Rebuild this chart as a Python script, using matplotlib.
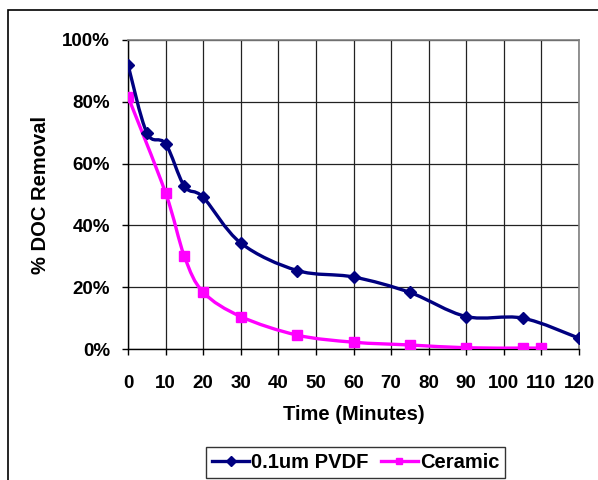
import numpy as np
import matplotlib
matplotlib.use("Agg")
import matplotlib.pyplot as plt
from matplotlib.path import Path
from matplotlib.patches import PathPatch, Rectangle

plt.rcParams['font.family'] = ['Liberation Sans', 'DejaVu Sans']
plt.rcParams['font.weight'] = 'bold'

# data
pvdf_t = [0, 5, 10, 15, 20, 30, 45, 60, 75, 90, 105, 120]
pvdf_y = [0.92, 0.70, 0.664, 0.527, 0.491, 0.343, 0.254, 0.233, 0.183, 0.105, 0.10, 0.035]
cer_t = [0, 10, 15, 20, 30, 45, 60, 75, 90, 105, 110]
cer_y = [0.817, 0.505, 0.30, 0.184, 0.105, 0.045, 0.022, 0.013, 0.004, 0.003, 0.003]

xticks = list(range(0, 121, 10))
yticks = [0, 0.2, 0.4, 0.6, 0.8, 1.0]
ytick_labels = ['0%', '20%', '40%', '60%', '80%', '100%']


def smooth_path(x, y):
    # excel-style smoothed line (catmull-rom as cubic bezier)
    p = np.column_stack([x, y]).astype(float)
    n = len(p)
    verts = [p[0]]
    codes = [Path.MOVETO]
    for i in range(n - 1):
        p0 = p[i - 1] if i > 0 else p[i]
        p3 = p[i + 2] if i + 2 < n else p[i + 1]
        c1 = p[i] + (p[i + 1] - p0) / 6.0
        c2 = p[i + 1] - (p3 - p[i]) / 6.0
        verts += [c1, c2, p[i + 1]]
        codes += [Path.CURVE4] * 3
    return Path(verts, codes)


fig = plt.figure(figsize=(5.98, 4.8), dpi=100)
ax = fig.add_axes([128 / 598, 1 - 349 / 480, (579 - 128) / 598, (349 - 40) / 480])

navy = '#000080'
mag = '#FF00FF'

ax.add_patch(PathPatch(smooth_path(cer_t, cer_y), fill=False, ec=mag, lw=2.4, zorder=3))
ax.plot(cer_t, cer_y, ls='none', marker='s', ms=7, color=mag, zorder=4)
ax.add_patch(PathPatch(smooth_path(pvdf_t, pvdf_y), fill=False, ec=navy, lw=2.4, zorder=5))
ax.plot(pvdf_t, pvdf_y, ls='none', marker='D', ms=6.5, color=navy, zorder=6)

ax.set_xlim(0, 120)
ax.set_ylim(0, 1.0)
ax.set_xticks(xticks)
ax.set_yticks(yticks)
ax.set_yticklabels(ytick_labels)
ax.grid(True, color='#222222', lw=0.9)
ax.set_axisbelow(True)

for s in ['top', 'right']:
    ax.spines[s].set_color('#808080')
    ax.spines[s].set_linewidth(1.2)
for s in ['left', 'bottom']:
    ax.spines[s].set_color('black')
    ax.spines[s].set_linewidth(1.0)

ax.tick_params(axis='x', direction='out', length=4, width=1, pad=15, labelsize=13.5)
ax.tick_params(axis='y', direction='out', length=4, width=1, pad=9, labelsize=13.5)

ax.set_xlabel('Time (Minutes)', fontsize=14.5, fontweight='bold', labelpad=9)
ax.set_ylabel('% DOC Removal', fontsize=14.5, fontweight='bold', labelpad=9)

# legend
h1, = ax.plot([], [], color=navy, lw=2.4, marker='D', ms=5)
h2, = ax.plot([], [], color=mag, lw=2.4, marker='s', ms=5)
leg = fig.legend([h1, h2], ['0.1um PVDF', 'Ceramic'], loc='upper left',
                 bbox_to_anchor=(206 / 598, 1 - 447 / 480), ncol=2,
                 fontsize=14.5, frameon=True, fancybox=False, handlelength=1.85,
                 handletextpad=0.1, columnspacing=0.6, borderpad=0.3,
                 borderaxespad=0)
leg.get_frame().set_edgecolor('black')
leg.get_frame().set_linewidth(1.0)

# outer chart border
fig.patches.append(Rectangle((8 / 598, -0.1), 1.1, 1 - 10 / 480 + 0.1,
                             transform=fig.transFigure, fill=False,
                             ec='black', lw=1.2, clip_on=False))

fig.savefig('out.png', dpi=100)
